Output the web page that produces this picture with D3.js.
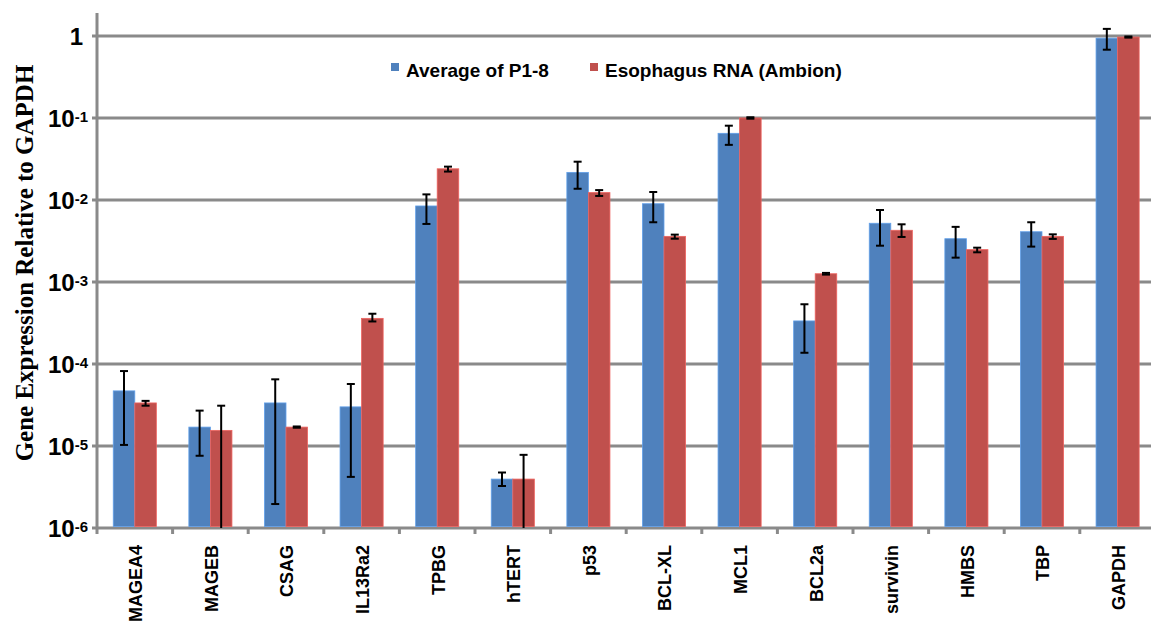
<!DOCTYPE html>
<html lang="en">
<head>
  <meta charset="UTF-8">
  <title>Gene Expression Relative to GAPDH</title>
  <style>
    body { margin: 0; background: #fff; }
    .grid line { stroke: #8a8a8a; stroke-width: 3px; }
    .ytick { font-family: "Liberation Sans", Arial, sans-serif; font-weight: bold; font-size: 24px; fill: #000; }
    .xlabel { font-family: "Liberation Sans", Arial, sans-serif; font-weight: bold; font-size: 18px; fill: #000; }
    .legend text { font-family: "Liberation Sans", Arial, sans-serif; font-weight: bold; font-size: 19px; fill: #000; }
    .ytitle { font-family: "Liberation Serif", "Times New Roman", serif; font-weight: bold; font-size: 25px; fill: #000; }
    .err { stroke: #000; stroke-width: 2px; }
  </style>
</head>
<body>
  <svg id="chart" width="1151" height="625"></svg>

  <script src="https://d3js.org/d3.v7.min.js"></script>
  <script>
    const categories = ['MAGEA4', 'MAGEB', 'CSAG', 'IL13Ra2', 'TPBG', 'hTERT', 'p53',
      'BCL-XL', 'MCL1', 'BCL2a', 'survivin', 'HMBS', 'TBP', 'GAPDH'];
    const seriesNames = ['Average of P1-8', 'Esophagus RNA (Ambion)'];

    // Average of P1-8 (blue)
    const avgValues = [4.7e-5, 1.7e-5, 3.35e-5, 3.0e-5, 8.45e-3, 3.95e-6, 2.17e-2,
      9.0e-3, 6.5e-2, 3.35e-4, 5.2e-3, 3.37e-3, 4.1e-3, 0.94];
    const avgHigh = [8.2e-5, 2.7e-5, 6.5e-5, 5.7e-5, 1.17e-2, 4.75e-6, 2.93e-2,
      1.25e-2, 8.05e-2, 5.35e-4, 7.55e-3, 4.7e-3, 5.35e-3, 1.22];
    const avgLow = [1.03e-5, 7.6e-6, 1.96e-6, 4.2e-6, 5.1e-3, 3.25e-6, 1.37e-2,
      5.35e-3, 4.7e-2, 1.37e-4, 2.77e-3, 1.98e-3, 2.7e-3, 0.68];

    // Esophagus RNA (Ambion) (red)
    const esoValues = [3.35e-5, 1.55e-5, 1.7e-5, 3.6e-4, 2.4e-2, 3.95e-6, 1.23e-2,
      3.6e-3, 0.1, 1.26e-3, 4.27e-3, 2.48e-3, 3.6e-3, 0.97];
    const esoHigh = [3.55e-5, 3.1e-5, 1.73e-5, 4.1e-4, 2.55e-2, 7.8e-6, 1.32e-2,
      3.78e-3, 0.102, 1.29e-3, 5.05e-3, 2.62e-3, 3.81e-3, 0.985];
    const esoLow = [3.1e-5, 1e-7, 1.67e-5, 3.3e-4, 2.22e-2, 1e-7, 1.12e-2,
      3.37e-3, 0.098, 1.23e-3, 3.54e-3, 2.3e-3, 3.35e-3, 0.955];

    const yTicks = [1e-6, 1e-5, 1e-4, 1e-3, 1e-2, 1e-1, 1];
    const colors = ['#4f81bd', '#c0504d'];

    const svg = d3.select('#chart');
    const plotLeft = 97, plotBottom = 528, plotTop = 13;
    const band = 75.6;

    const x0 = d3.scaleBand()
      .domain(categories)
      .range([plotLeft, plotLeft + band * categories.length]);

    const x1 = d3.scaleBand()
      .domain(d3.range(seriesNames.length))
      .range([band * 0.215, band * 0.785]);

    const y = d3.scaleLog()
      .domain([1e-6, Math.pow(10, 0.28)])
      .range([plotBottom, plotTop])
      .clamp(true);

    const rows = categories.map((c, i) => ({
      cat: c,
      vals: [
        { s: 0, v: avgValues[i], lo: avgLow[i], hi: avgHigh[i] },
        { s: 1, v: esoValues[i], lo: esoLow[i], hi: esoHigh[i] }
      ]
    }));

    // gridlines
    svg.append('g')
      .attr('class', 'grid')
      .selectAll('line')
      .data(yTicks)
      .join('line')
      .attr('x1', plotLeft - 5)
      .attr('x2', 1151)
      .attr('y1', d => y(d))
      .attr('y2', d => y(d));

    // y axis line
    svg.append('line')
      .attr('x1', plotLeft).attr('x2', plotLeft)
      .attr('y1', plotTop).attr('y2', plotBottom + 6)
      .attr('stroke', '#8a8a8a').attr('stroke-width', 3);

    // x tick marks at category boundaries
    svg.append('g')
      .selectAll('line')
      .data(categories.slice(1))
      .join('line')
      .attr('x1', d => x0(d)).attr('x2', d => x0(d))
      .attr('y1', plotBottom).attr('y2', plotBottom + 6)
      .attr('stroke', '#8a8a8a').attr('stroke-width', 3);

    // bars
    const groups = svg.append('g')
      .selectAll('g')
      .data(rows)
      .join('g')
      .attr('transform', d => `translate(${x0(d.cat)},0)`);

    groups.selectAll('rect')
      .data(d => d.vals)
      .join('rect')
      .attr('x', d => x1(d.s))
      .attr('width', x1.bandwidth())
      .attr('y', d => y(d.v))
      .attr('height', d => plotBottom - 1.5 - y(d.v))
      .attr('fill', d => colors[d.s])
      .attr('stroke', d => d3.color(colors[d.s]).brighter(0.6))
      .attr('stroke-width', 0.8);

    // error bars
    const err = groups.selectAll('g.errbar')
      .data(d => d.vals)
      .join('g')
      .attr('class', 'errbar')
      .attr('transform', d => `translate(${x1(d.s) + x1.bandwidth() / 2},0)`);

    err.append('line')
      .attr('class', 'err')
      .attr('y1', d => y(d.hi))
      .attr('y2', d => y(d.lo));

    err.append('line')
      .attr('class', 'err')
      .attr('x1', -4).attr('x2', 4)
      .attr('y1', d => y(d.hi)).attr('y2', d => y(d.hi));

    err.filter(d => d.lo > 1e-6)
      .append('line')
      .attr('class', 'err')
      .attr('x1', -4).attr('x2', 4)
      .attr('y1', d => y(d.lo)).attr('y2', d => y(d.lo));

    // y tick labels
    const yl = svg.append('g')
      .selectAll('text')
      .data(yTicks)
      .join('text')
      .attr('class', 'ytick')
      .attr('text-anchor', 'end')
      .attr('x', d => d === 1 ? 83 : 88)
      .attr('y', d => y(d))
      .attr('dy', '0.36em');

    yl.each(function (d) {
      const t = d3.select(this);
      if (d === 1) {
        t.text('1');
      } else {
        t.append('tspan').text('10');
        t.append('tspan')
          .attr('dy', '-0.32em')
          .attr('font-size', '15px')
          .text(Math.round(Math.log10(d)));
      }
    });

    // x labels
    svg.append('g')
      .selectAll('text')
      .data(categories)
      .join('text')
      .attr('class', 'xlabel')
      .attr('text-anchor', 'end')
      .attr('transform', d => `translate(${x0(d) + band / 2 + 1},545) rotate(-90)`)
      .attr('dy', '0.36em')
      .text(d => d);

    // y axis title
    svg.append('text')
      .attr('class', 'ytitle')
      .attr('text-anchor', 'middle')
      .attr('transform', 'translate(33,263) rotate(-90)')
      .text('Gene Expression Relative to GAPDH');

    // legend
    const legendX = [391, 590];
    const legend = svg.append('g')
      .attr('class', 'legend')
      .selectAll('g')
      .data(seriesNames)
      .join('g')
      .attr('transform', (d, i) => `translate(${legendX[i]},63)`);

    legend.append('rect')
      .attr('width', 8).attr('height', 8)
      .attr('fill', (d, i) => colors[i]);

    legend.append('text')
      .attr('x', 15)
      .attr('y', 14)
      .text(d => d);
  </script>
</body>
</html>
